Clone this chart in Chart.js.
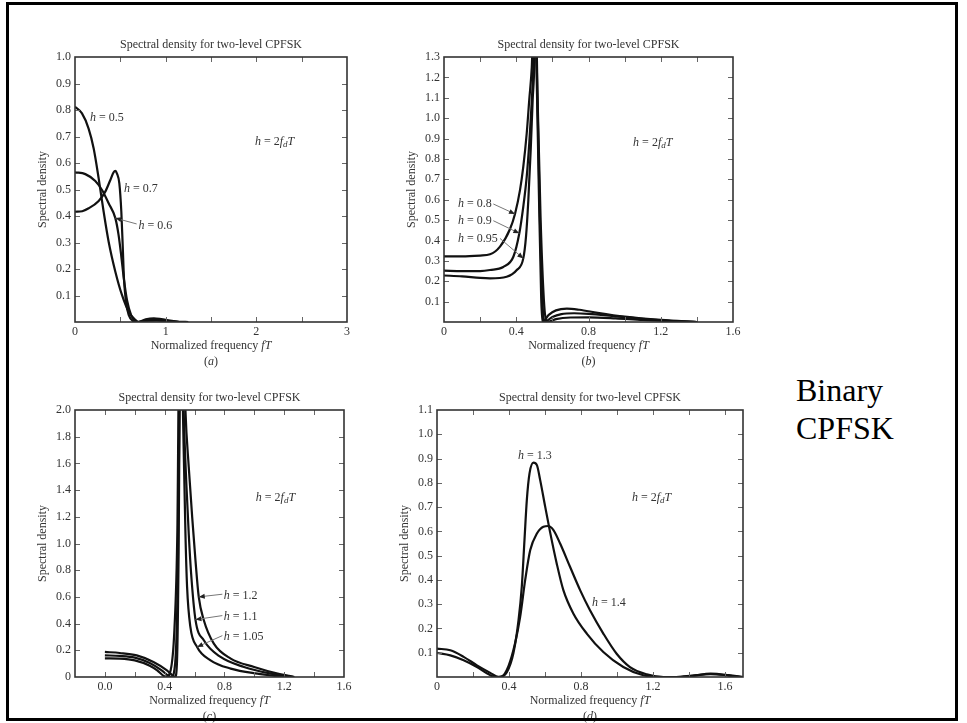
<!DOCTYPE html>
<html>
<head>
<meta charset="utf-8">
<script src="https://cdn.jsdelivr.net/npm/chart.js@4.4.0/dist/chart.umd.min.js"></script>
<style>
  body { margin: 0; background: #fff; }
  #page { position: relative; width: 967px; height: 723px; overflow: hidden; background: #fff; }
  canvas { position: absolute; }
  #frame { position: absolute; left: 6px; top: 2px; width: 946px; height: 713px; border: 3px solid #000; pointer-events: none; }
  #side { position: absolute; left: 796px; top: 371px; font: 32px "Liberation Serif", "Times New Roman", serif; line-height: 38px; color: #000; }
</style>
</head>
<body>
<div id="page">
  <canvas id="ca" width="400" height="375" style="left:0;top:0"></canvas>
  <canvas id="cb" width="400" height="375" style="left:390px;top:0"></canvas>
  <canvas id="cc" width="400" height="348" style="left:0;top:375px"></canvas>
  <canvas id="cd" width="400" height="348" style="left:390px;top:375px"></canvas>
  <div id="side">Binary<br>CPFSK</div>
  <div id="frame"></div>
</div>
<script>
// (a) h = 0.5, 0.6, 0.7
const aX05 = [0, 0.077, 0.15, 0.206, 0.261, 0.316, 0.371, 0.445, 0.518, 0.592, 0.665, 0.70, 0.78, 0.87, 0.95, 1.05, 1.15, 1.25];
const aY05 = [0.812, 0.787, 0.73, 0.655, 0.542, 0.416, 0.303, 0.19, 0.102, 0.039, 0.008, 0, 0.01, 0.014, 0.011, 0.005, 0.001, 0];
const aX06 = [0, 0.114, 0.224, 0.298, 0.371, 0.445, 0.48, 0.51, 0.54, 0.575, 0.62, 0.67, 0.70, 0.8, 0.9, 1.0, 1.15];
const aY06 = [0.565, 0.558, 0.532, 0.498, 0.448, 0.392, 0.33, 0.25, 0.16, 0.08, 0.025, 0.002, 0, 0.008, 0.009, 0.005, 0];
const aX07 = [0, 0.08, 0.151, 0.261, 0.334, 0.39, 0.426, 0.445, 0.463, 0.489, 0.511, 0.526, 0.54, 0.562, 0.592, 0.647, 0.68, 0.78, 0.9, 1.0, 1.15];
const aY07 = [0.416, 0.418, 0.429, 0.457, 0.492, 0.536, 0.565, 0.57, 0.56, 0.523, 0.416, 0.29, 0.165, 0.077, 0.027, 0.002, 0, 0.004, 0.005, 0.003, 0];

// (b) h = 0.8, 0.9, 0.95
const bX08 = [0, 0.1, 0.2, 0.255, 0.31, 0.365, 0.393, 0.421, 0.439, 0.458, 0.472, 0.486, 0.495, 0.505, 0.512, 0.525, 0.538, 0.545, 0.58, 0.62, 0.68, 0.75, 0.85, 1.0, 1.2, 1.4];
const bY08 = [0.322, 0.322, 0.326, 0.332, 0.37, 0.455, 0.53, 0.648, 0.762, 0.926, 1.09, 1.25, 1.45, 1.45, 1.25, 0.65, 0.12, 0, 0.035, 0.057, 0.066, 0.06, 0.045, 0.026, 0.01, 0];
const bX09 = [0, 0.1, 0.2, 0.255, 0.328, 0.384, 0.417, 0.439, 0.458, 0.472, 0.483, 0.494, 0.5, 0.508, 0.515, 0.53, 0.545, 0.555, 0.6, 0.65, 0.72, 0.8, 0.95, 1.1, 1.25, 1.4];
const bY09 = [0.252, 0.25, 0.25, 0.255, 0.27, 0.32, 0.435, 0.566, 0.713, 0.877, 1.04, 1.236, 1.45, 1.45, 1.2, 0.55, 0.1, 0, 0.025, 0.039, 0.043, 0.04, 0.028, 0.016, 0.006, 0];
const bX095 = [0, 0.1, 0.2, 0.255, 0.347, 0.403, 0.439, 0.454, 0.467, 0.48, 0.491, 0.5, 0.503, 0.51, 0.518, 0.535, 0.555, 0.57, 0.62, 0.7, 0.8, 0.95, 1.1, 1.3, 1.4];
const bY095 = [0.228, 0.224, 0.216, 0.214, 0.222, 0.255, 0.312, 0.419, 0.6, 0.844, 1.09, 1.27, 1.45, 1.45, 1.1, 0.5, 0.08, 0, 0.014, 0.022, 0.023, 0.018, 0.01, 0.003, 0];

// (c) h = 1.05, 1.1, 1.2
const cX105 = [0, 0.1, 0.213, 0.325, 0.415, 0.46, 0.47, 0.482, 0.493, 0.5, 0.505, 0.515, 0.522, 0.539, 0.55, 0.572, 0.617, 0.707, 0.842, 1.02, 1.2];
const cY105 = [0.1875, 0.18, 0.162, 0.113, 0.05, 0.005, 0, 0.1, 0.9, 2.0, 2.4, 2.4, 2.0, 1.075, 0.675, 0.375, 0.225, 0.125, 0.063, 0.025, 0];
const cX11 = [0, 0.1, 0.2, 0.3, 0.38, 0.43, 0.445, 0.47, 0.487, 0.497, 0.503, 0.52, 0.527, 0.545, 0.561, 0.577, 0.606, 0.662, 0.774, 0.931, 1.111, 1.246];
const cY11 = [0.162, 0.158, 0.145, 0.105, 0.05, 0.005, 0, 0.1, 0.7, 1.8, 2.4, 2.4, 2.0, 1.45, 1.075, 0.775, 0.43, 0.275, 0.15, 0.075, 0.025, 0];
const cX12 = [0, 0.1, 0.2, 0.3, 0.35, 0.39, 0.41, 0.44, 0.465, 0.485, 0.497, 0.53, 0.539, 0.561, 0.584, 0.606, 0.628, 0.662, 0.729, 0.842, 0.999, 1.156, 1.268];
const cY12 = [0.14, 0.138, 0.125, 0.085, 0.05, 0.01, 0, 0.05, 0.35, 1.1, 2.4, 2.4, 2.0, 1.575, 1.2, 0.875, 0.6, 0.425, 0.25, 0.138, 0.075, 0.025, 0];

// (d) h = 1.3, 1.4
const dX13 = [0, 0.074, 0.148, 0.222, 0.296, 0.342, 0.388, 0.425, 0.453, 0.471, 0.486, 0.499, 0.514, 0.536, 0.555, 0.573, 0.601, 0.628, 0.665, 0.702, 0.758, 0.832, 0.924, 1.035, 1.146, 1.257, 1.33, 1.42, 1.52, 1.62, 1.7];
const dY13 = [0.117, 0.11, 0.083, 0.048, 0.017, 0, 0.02, 0.1, 0.234, 0.371, 0.564, 0.729, 0.839, 0.883, 0.873, 0.812, 0.702, 0.598, 0.468, 0.358, 0.261, 0.179, 0.103, 0.041, 0.007, 0, 0, 0.006, 0.012, 0.006, 0];
const dX14 = [0, 0.074, 0.148, 0.222, 0.287, 0.323, 0.36, 0.397, 0.434, 0.462, 0.49, 0.518, 0.555, 0.591, 0.619, 0.647, 0.684, 0.739, 0.795, 0.85, 0.924, 0.998, 1.072, 1.165, 1.257, 1.33, 1.42, 1.52, 1.62, 1.7];
const dY14 = [0.099, 0.089, 0.069, 0.041, 0.011, 0, 0.003, 0.045, 0.14, 0.248, 0.4, 0.523, 0.591, 0.619, 0.622, 0.605, 0.55, 0.454, 0.358, 0.275, 0.179, 0.096, 0.041, 0.011, 0, 0, 0.005, 0.014, 0.008, 0];

const TITLE = "Spectral density for two-level CPFSK";
const SERIF = '"Liberation Serif", "Times New Roman", serif';
const H2FDT = [["h", "i"], [" = 2", "n"], ["f", "i"], ["d", "s"], ["T", "i"]];

function hLabel(v) { return [["h", "i"], [" = " + v, "n"]]; }

function fontOf(style) {
  if (style === "i") return "italic 12px " + SERIF;
  if (style === "s") return "italic 9px " + SERIF;
  return "12px " + SERIF;
}

function rich(ctx, segs, x, y, center) {
  let w = 0;
  segs.forEach(s => { ctx.font = fontOf(s[1]); w += ctx.measureText(s[0]).width; });
  let cx = center ? x - w / 2 : x;
  segs.forEach(s => {
    ctx.font = fontOf(s[1]);
    ctx.fillText(s[0], cx, y + (s[1] === "s" ? 3 : 0));
    cx += ctx.measureText(s[0]).width;
  });
}

function arrow(ctx, x1, y1, x2, y2) {
  ctx.strokeStyle = "#777";
  ctx.lineWidth = 1;
  ctx.beginPath();
  ctx.moveTo(x1, y1);
  ctx.lineTo(x2, y2);
  ctx.stroke();
  const ang = Math.atan2(y2 - y1, x2 - x1);
  const bx = x2 - 6 * Math.cos(ang), by = y2 - 6 * Math.sin(ang);
  ctx.fillStyle = "#222";
  ctx.beginPath();
  ctx.moveTo(x2, y2);
  ctx.lineTo(bx + 2.5 * Math.sin(ang), by - 2.5 * Math.cos(ang));
  ctx.lineTo(bx - 2.5 * Math.sin(ang), by + 2.5 * Math.cos(ang));
  ctx.closePath();
  ctx.fill();
}

function makeDeco(spec) {
  return {
    id: "deco",
    afterDraw(chart) {
      const { ctx, chartArea: a, scales: { x, y } } = chart;
      ctx.save();
      // inward tick marks on all four sides
      ctx.lineWidth = 1;
      ctx.strokeStyle = "#666";
      ctx.beginPath();
      x.ticks.forEach(t => {
        const p = Math.round(x.getPixelForValue(t.value)) + 0.5;
        if (p > a.left + 3 && p < a.right - 3) {
          ctx.moveTo(p, a.bottom); ctx.lineTo(p, a.bottom - 5);
          ctx.moveTo(p, a.top); ctx.lineTo(p, a.top + 5);
        }
      });
      y.ticks.forEach(t => {
        const p = Math.round(y.getPixelForValue(t.value)) + 0.5;
        if (p > a.top + 3 && p < a.bottom - 3) {
          ctx.moveTo(a.left, p); ctx.lineTo(a.left + 5, p);
          ctx.moveTo(a.right, p); ctx.lineTo(a.right - 5, p);
        }
      });
      ctx.stroke();
      ctx.lineWidth = 1.6;
      ctx.strokeStyle = "#333";
      ctx.strokeRect(a.left, a.top, a.right - a.left, a.bottom - a.top);

      ctx.fillStyle = "#333";
      ctx.textBaseline = "middle";
      ctx.textAlign = "left";
      const cx = (a.left + a.right) / 2, cy = (a.top + a.bottom) / 2;
      rich(ctx, [[TITLE, "n"]], cx, a.top - 12, true);
      rich(ctx, [["Normalized frequency ", "n"], ["fT", "i"]], cx, a.bottom + 24, true);
      rich(ctx, [["(", "n"], [spec.sub, "i"], [")", "n"]], cx, a.bottom + 40, true);
      ctx.save();
      ctx.translate(a.left - 32, cy);
      ctx.rotate(-Math.PI / 2);
      rich(ctx, [["Spectral density", "n"]], 0, 0, true);
      ctx.restore();

      spec.notes.forEach(n => {
        ctx.fillStyle = "#333";
        rich(ctx, n.segs, x.getPixelForValue(n.at[0]), y.getPixelForValue(n.at[1]), false);
      });
      spec.leaders.forEach(l => arrow(ctx,
        x.getPixelForValue(l[0]), y.getPixelForValue(l[1]),
        x.getPixelForValue(l[2]), y.getPixelForValue(l[3])));
      ctx.restore();
    }
  };
}

function lineSet(xs, ys) {
  return {
    data: xs.map((v, i) => ({ x: v, y: ys[i] })),
    borderColor: "#111",
    borderWidth: 2.2,
    pointRadius: 0,
    fill: false,
    cubicInterpolationMode: "monotone",
    clip: 0
  };
}

const tickFont = { family: SERIF, size: 12 };

function evenLabel(step, zeroText, showZero) {
  return v => {
    const k = Math.round(v / step);
    if (k < 0 || k % 2 !== 0) return "";
    if (k === 0) return showZero ? zeroText : "";
    return v.toFixed(1);
  };
}

function yLabel(zeroText) {
  return v => (Math.abs(v) < 1e-6 ? zeroText : v.toFixed(1));
}

function makeChart(id, spec) {
  new Chart(document.getElementById(id), {
    type: "line",
    data: { datasets: spec.sets },
    options: {
      responsive: false,
      animation: false,
      events: [],
      layout: { padding: spec.pad },
      plugins: { legend: { display: false }, tooltip: { enabled: false }, title: { display: false } },
      scales: {
        x: {
          type: "linear", min: spec.x[0], max: spec.x[1],
          ticks: { stepSize: spec.x[2], autoSkip: false, includeBounds: false, maxRotation: 0, padding: 3,
                   font: tickFont, color: "#333", callback: spec.xl },
          grid: { display: false, drawTicks: false },
          border: { display: false },
          afterFit(s) { s.height = spec.xH; s.paddingLeft = 0; s.paddingRight = 0; }
        },
        y: {
          type: "linear", min: spec.y[0], max: spec.y[1],
          ticks: { stepSize: spec.y[2], autoSkip: false, includeBounds: false, padding: 4,
                   font: tickFont, color: "#333", callback: spec.yl },
          grid: { display: false, drawTicks: false },
          border: { display: false },
          afterFit(s) { s.width = spec.yW; s.paddingTop = 0; s.paddingBottom = 0; }
        }
      }
    },
    plugins: [makeDeco(spec)]
  });
}

makeChart("ca", {
  sets: [lineSet(aX05, aY05), lineSet(aX06, aY06), lineSet(aX07, aY07)],
  pad: { top: 57, left: 0, right: 53, bottom: 0 }, yW: 75, xH: 53,
  x: [0, 3, 0.5], y: [0, 1, 0.1],
  xl: v => (Math.abs(v - Math.round(v)) < 1e-6 ? String(Math.round(v)) : ""),
  yl: yLabel(""),
  sub: "a",
  notes: [
    { segs: hLabel("0.5"), at: [0.165, 0.77] },
    { segs: hLabel("0.7"), at: [0.54, 0.502] },
    { segs: hLabel("0.6"), at: [0.70, 0.362] },
    { segs: H2FDT, at: [1.985, 0.68] }
  ],
  leaders: [[0.68, 0.37, 0.445, 0.392]]
});

makeChart("cb", {
  sets: [lineSet(bX08, bY08), lineSet(bX09, bY09), lineSet(bX095, bY095)],
  pad: { top: 57, left: 0, right: 57, bottom: 0 }, yW: 54, xH: 53,
  x: [0, 1.6, 0.2], y: [0, 1.3, 0.1],
  xl: evenLabel(0.2, "0", true),
  yl: yLabel(""),
  sub: "b",
  notes: [
    { segs: hLabel("0.8"), at: [0.078, 0.579] },
    { segs: hLabel("0.9"), at: [0.078, 0.497] },
    { segs: hLabel("0.95"), at: [0.078, 0.41] },
    { segs: H2FDT, at: [1.047, 0.878] }
  ],
  leaders: [[0.273, 0.579, 0.393, 0.53], [0.273, 0.497, 0.417, 0.435], [0.31, 0.41, 0.439, 0.312]]
});

makeChart("cc", {
  sets: [lineSet(cX105, cY105), lineSet(cX11, cY11), lineSet(cX12, cY12)],
  pad: { top: 35, left: 0, right: 56, bottom: 0 }, yW: 75, xH: 46,
  x: [-0.2, 1.6, 0.2], y: [0, 2, 0.2],
  xl: v => { const k = Math.round(v / 0.2); return (k >= 0 && k % 2 === 0) ? Math.abs(v).toFixed(1) : ""; },
  yl: yLabel("0"),
  sub: "c",
  notes: [
    { segs: hLabel("1.2"), at: [0.795, 0.607] },
    { segs: hLabel("1.1"), at: [0.795, 0.452] },
    { segs: hLabel("1.05"), at: [0.795, 0.3] },
    { segs: H2FDT, at: [1.01, 1.344] }
  ],
  leaders: [[0.786, 0.62, 0.628, 0.6], [0.786, 0.46, 0.606, 0.43], [0.786, 0.31, 0.617, 0.225]]
});

makeChart("cd", {
  sets: [lineSet(dX13, dY13), lineSet(dX14, dY14)],
  pad: { top: 35, left: 0, right: 47, bottom: 0 }, yW: 47, xH: 46,
  x: [0, 1.7, 0.2], y: [0, 1.1, 0.1],
  xl: evenLabel(0.2, "0", true),
  yl: yLabel(""),
  sub: "d",
  notes: [
    { segs: hLabel("1.3"), at: [0.45, 0.912] },
    { segs: hLabel("1.4"), at: [0.861, 0.305] },
    { segs: H2FDT, at: [1.083, 0.74] }
  ],
  leaders: []
});
</script>
</body>
</html>
